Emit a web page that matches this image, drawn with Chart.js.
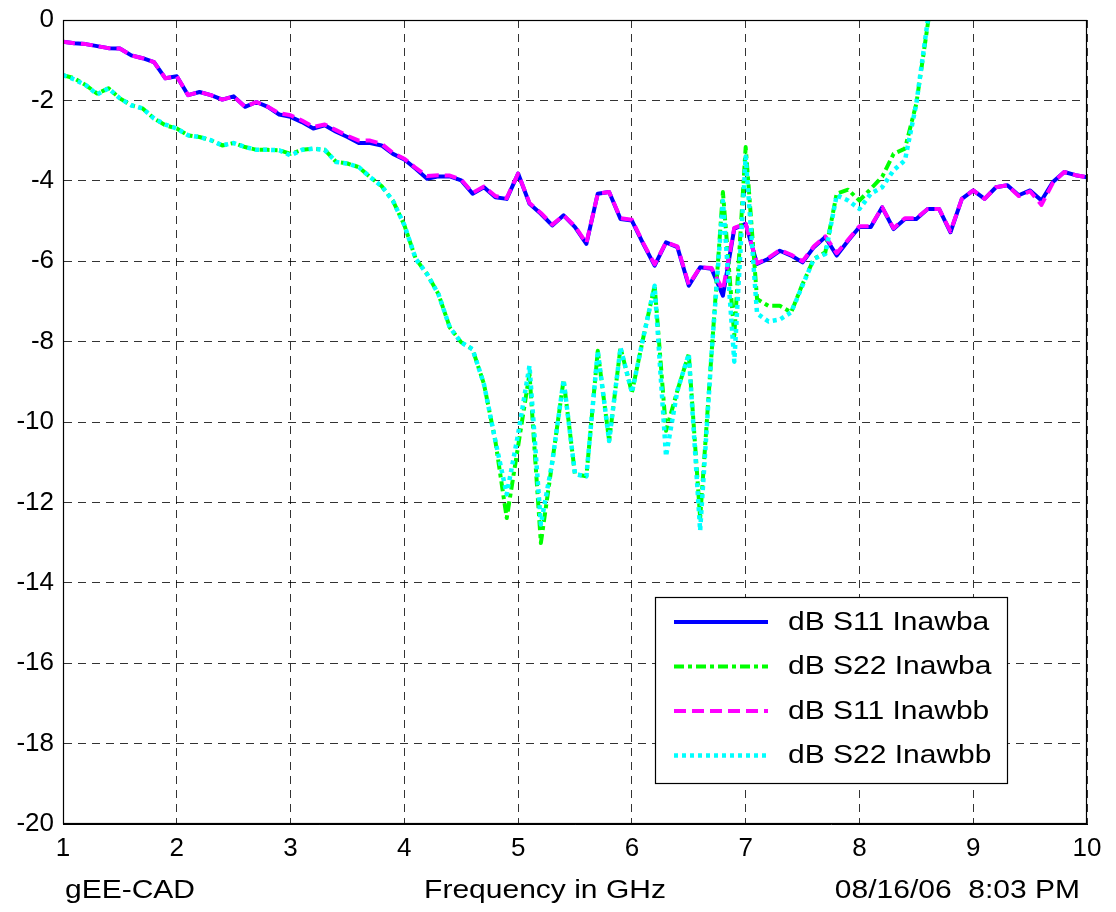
<!DOCTYPE html>
<html>
<head>
<meta charset="utf-8">
<script src="https://cdn.jsdelivr.net/npm/chart.js@4.4.1/dist/chart.umd.min.js"></script>
<style>
  html, body { margin: 0; padding: 0; background: #fff; }
  #wrap { width: 1116px; height: 912px; position: relative; }
</style>
</head>
<body>
<div id="wrap"><canvas id="chart"></canvas></div>
<script>
// frequency points (GHz)
const freq = [
  1.0, 1.1, 1.2, 1.3, 1.4, 1.5, 1.6, 1.7, 1.8, 1.9,
  2.0, 2.1, 2.2, 2.3, 2.4, 2.5, 2.6, 2.7, 2.8, 2.9,
  3.0, 3.1, 3.2, 3.3, 3.4, 3.5, 3.6, 3.7, 3.8, 3.9,
  4.0, 4.1, 4.2, 4.3, 4.4, 4.5, 4.6, 4.7, 4.8, 4.9,
  5.0, 5.1, 5.2, 5.3, 5.4, 5.5, 5.6, 5.7, 5.8, 5.9,
  6.0, 6.1, 6.2, 6.3, 6.4, 6.5, 6.6, 6.7, 6.8, 6.9,
  7.0, 7.1, 7.2, 7.3, 7.4, 7.5, 7.6, 7.7, 7.8, 7.9,
  8.0, 8.1, 8.2, 8.3, 8.4, 8.5, 8.6, 8.7, 8.8, 8.9,
  9.0, 9.1, 9.2, 9.3, 9.4, 9.5, 9.6, 9.7, 9.8, 9.9,
  10.0
]

const s11Inawba = [
  -0.54, -0.58, -0.60, -0.65, -0.70, -0.71, -0.88, -0.95, -1.05, -1.45,
  -1.40, -1.87, -1.79, -1.87, -1.98, -1.90, -2.16, -2.04, -2.16, -2.35,
  -2.41, -2.54, -2.70, -2.62, -2.78, -2.91, -3.06, -3.06, -3.12, -3.33,
  -3.47, -3.70, -3.95, -3.89, -3.89, -3.99, -4.32, -4.16, -4.41, -4.45,
  -3.82, -4.57, -4.82, -5.11, -4.86, -5.15, -5.57, -4.32, -4.28, -4.95,
  -4.99, -5.57, -6.11, -5.53, -5.65, -6.61, -6.15, -6.19, -6.86, -5.19,
  -5.07, -6.07, -5.94, -5.74, -5.86, -6.03, -5.65, -5.40, -5.86, -5.49,
  -5.15, -5.15, -4.66, -5.20, -4.95, -4.95, -4.70, -4.70, -5.28, -4.45,
  -4.24, -4.45, -4.16, -4.11, -4.36, -4.24, -4.49, -4.03, -3.78, -3.86,
  -3.91
]

const s22Inawba = [
  -1.37, -1.45, -1.62, -1.83, -1.70, -1.95, -2.12, -2.20, -2.45, -2.62,
  -2.70, -2.87, -2.91, -2.99, -3.12, -3.06, -3.16, -3.23, -3.23, -3.24,
  -3.33, -3.23, -3.20, -3.23, -3.53, -3.57, -3.66, -3.91, -4.13, -4.50,
  -5.10, -5.94, -6.32, -6.82, -7.65, -8.02, -8.19, -9.06, -10.47, -12.39,
  -10.60, -8.80, -13.01, -11.00, -8.95, -11.30, -11.35, -8.23, -10.47, -8.15,
  -9.27, -7.90, -6.61, -10.22, -9.22, -8.31, -12.39, -8.30, -4.28, -7.85,
  -3.16, -6.94, -7.11, -7.11, -7.27, -6.57, -5.94, -5.78, -4.32, -4.22,
  -4.49, -4.20, -3.90, -3.33, -3.20, -2.08, -0.12, 1.80, null, null,
  null, null, null, null, null, null, null, null, null, null,
  null
]

const s11Inawbb = [
  -0.54, -0.58, -0.60, -0.65, -0.70, -0.71, -0.88, -0.95, -1.05, -1.45,
  -1.40, -1.87, -1.79, -1.87, -1.98, -1.90, -2.16, -2.04, -2.16, -2.32,
  -2.37, -2.50, -2.66, -2.60, -2.74, -2.88, -3.00, -3.00, -3.08, -3.31,
  -3.45, -3.68, -3.88, -3.86, -3.87, -3.97, -4.30, -4.14, -4.38, -4.43,
  -3.82, -4.55, -4.80, -5.09, -4.86, -5.13, -5.55, -4.32, -4.28, -4.93,
  -4.97, -5.55, -6.08, -5.53, -5.63, -6.58, -6.15, -6.17, -6.72, -5.17,
  -5.07, -6.05, -5.92, -5.72, -5.84, -6.00, -5.63, -5.38, -5.80, -5.47,
  -5.13, -5.13, -4.66, -5.18, -4.93, -4.93, -4.70, -4.70, -5.26, -4.45,
  -4.24, -4.45, -4.16, -4.11, -4.38, -4.26, -4.60, -4.05, -3.78, -3.86,
  -3.91
]

const s22Inawbb = [
  -1.37, -1.48, -1.62, -1.85, -1.70, -1.95, -2.12, -2.20, -2.45, -2.60,
  -2.70, -2.87, -2.91, -2.99, -3.12, -3.06, -3.16, -3.23, -3.23, -3.24,
  -3.37, -3.23, -3.20, -3.23, -3.53, -3.57, -3.66, -3.91, -4.13, -4.50,
  -5.10, -5.94, -6.32, -6.82, -7.65, -8.02, -8.19, -9.06, -10.47, -11.80,
  -10.30, -8.60, -12.55, -11.00, -8.95, -11.30, -11.35, -8.23, -10.47, -8.15,
  -9.27, -7.90, -6.61, -10.85, -9.22, -8.31, -12.70, -8.30, -4.50, -8.50,
  -3.40, -7.30, -7.50, -7.45, -7.27, -6.60, -5.94, -5.82, -4.36, -4.49,
  -4.70, -4.32, -4.16, -3.74, -3.49, -2.08, -0.02, 1.80, null, null,
  null, null, null, null, null, null, null, null, null, null,
  null
]

const seriesNames = ['dB S11 Inawba', 'dB S22 Inawba', 'dB S11 Inawbb', 'dB S22 Inawbb']
const xTicks = [1, 2, 3, 4, 5, 6, 7, 8, 9, 10]
const yTicks = [0, -2, -4, -6, -8, -10, -12, -14, -16, -18, -20]
const footerLeft = 'gEE-CAD'
const xTitle = 'Frequency in GHz'
const footerRight = '08/16/06  8:03 PM'

const FONT = '"Liberation Sans", Arial, Helvetica, sans-serif'

const toPoints = (values) => freq.map((f, i) => ({ x: f, y: values[i] }))

const datasets = [
  { label: seriesNames[0], data: toPoints(s11Inawba), borderColor: '#0000ff', borderWidth: 4, borderDash: [], order: 4 },
  { label: seriesNames[1], data: toPoints(s22Inawba), borderColor: '#00ff00', borderWidth: 4, borderDash: [10, 4, 4, 4], order: 3 },
  { label: seriesNames[2], data: toPoints(s11Inawbb), borderColor: '#ff00ff', borderWidth: 4, borderDash: [12, 6], order: 2 },
  { label: seriesNames[3], data: toPoints(s22Inawbb), borderColor: '#00ffff', borderWidth: 4.5, borderDash: [4, 4], order: 1 },
]
datasets.forEach((d) => {
  d.pointRadius = 0
  d.tension = 0
  d.fill = false
  d.spanGaps = false
  d.borderCapStyle = 'butt'
  d.borderJoinStyle = 'round'
})

// draws the stretched (MATLAB-like) text
const stretchText = (ctx, text, x, y, align, size) => {
  ctx.save()
  ctx.translate(x, y)
  ctx.scale(1.2, 1)
  ctx.font = size + 'px ' + FONT
  ctx.textAlign = align
  ctx.fillStyle = '#000'
  ctx.fillText(text, 0, 0)
  ctx.restore()
}

const figurePlugin = {
  id: 'figureExtras',
  afterDraw(chart) {
    const { ctx, chartArea: a } = chart
    ctx.save()

    // axes box
    ctx.strokeStyle = '#000'
    ctx.lineWidth = 1.2
    ctx.setLineDash([])
    ctx.strokeRect(a.left + 0.5, a.top + 0.5, a.right - a.left - 1, a.bottom - a.top - 1)

    // legend
    const bx = a.right - 432
    const by = a.bottom - 227
    const bw = 352
    const bh = 186
    ctx.fillStyle = '#fff'
    ctx.fillRect(bx, by, bw, bh)
    ctx.lineWidth = 1.2
    ctx.strokeRect(bx + 0.5, by + 0.5, bw, bh)
    chart.data.datasets.forEach((ds, i) => {
      const ly = by + 25 + i * 44.5
      ctx.save()
      ctx.strokeStyle = ds.borderColor
      ctx.lineWidth = ds.borderWidth
      ctx.setLineDash(ds.borderDash)
      ctx.beginPath()
      ctx.moveTo(bx + 19, ly)
      ctx.lineTo(bx + 113, ly)
      ctx.stroke()
      ctx.restore()
      ctx.textBaseline = 'middle'
      stretchText(ctx, ds.label, bx + 133, ly + 1, 'left', 25)
    })

    // footer texts
    ctx.textBaseline = 'alphabetic'
    stretchText(ctx, footerLeft, 65, 898, 'left', 25)
    stretchText(ctx, xTitle, 545, 898, 'center', 25)
    stretchText(ctx, footerRight, 1080, 898, 'right', 25)
    ctx.restore()
  },
}

const gridStyle = {
  color: 'rgba(0,0,0,0.8)',
  lineWidth: 1,
  drawTicks: false,
}

const config = {
  type: 'line',
  data: { datasets },
  options: {
    responsive: true,
    maintainAspectRatio: false,
    animation: false,
    layout: { padding: { left: 0, top: 20, right: 29, bottom: 0 } },
    plugins: {
      legend: { display: false },
      tooltip: { enabled: false },
    },
    scales: {
      x: {
        type: 'linear',
        min: 1,
        max: 10,
        afterBuildTicks: (scale) => { scale.ticks = xTicks.map((v) => ({ value: v })) },
        afterFit: (scale) => {
          scale.height = 88
          scale.paddingLeft = 0
          scale.paddingRight = 0
        },
        grid: gridStyle,
        border: { display: true, color: '#000', width: 1, dash: [8, 6] },
        ticks: {
          color: '#000',
          padding: 9,
          maxRotation: 0,
          font: { family: FONT, size: 26 },
        },
      },
      y: {
        type: 'linear',
        min: -20,
        max: 0,
        afterBuildTicks: (scale) => { scale.ticks = yTicks.map((v) => ({ value: v })) },
        afterFit: (scale) => {
          scale.width = 63
          scale.paddingTop = 0
          scale.paddingBottom = 0
        },
        grid: gridStyle,
        border: { display: true, color: '#000', width: 1, dash: [8, 6] },
        ticks: {
          color: '#000',
          padding: 9,
          font: { family: FONT, size: 26 },
        },
      },
    },
  },
  plugins: [figurePlugin],
}

new Chart(document.getElementById('chart'), config)
</script>
</body>
</html>
